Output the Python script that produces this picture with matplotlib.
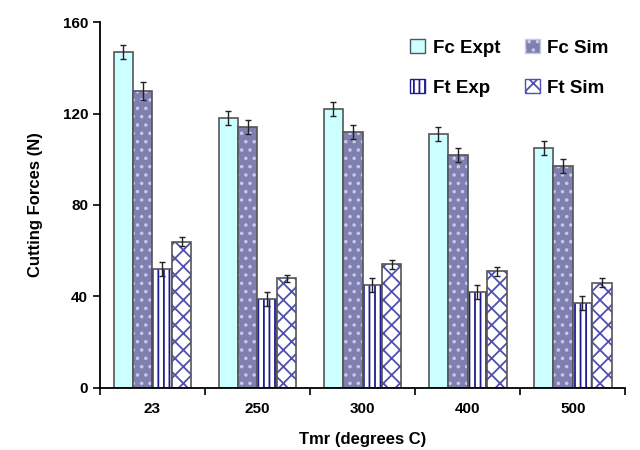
import matplotlib
matplotlib.use('Agg')
import matplotlib.pyplot as plt
import numpy as np

plt.rcParams['font.family'] = ['Liberation Sans', 'DejaVu Sans']
plt.rcParams['font.weight'] = 'bold'
plt.rcParams['hatch.linewidth'] = 1.3

temps = ['23', '250', '300', '400', '500']
fc_expt = [147, 118, 122, 111, 105]
fc_sim = [130, 114, 112, 102, 97]
ft_exp = [52, 39, 45, 42, 37]
ft_sim = [64, 48, 54, 51, 46]
fc_expt_err = [3, 3, 3, 3, 3]
fc_sim_err = [4, 3, 3, 3, 3]
ft_exp_err = [3, 3, 3, 3, 3]
ft_sim_err = [2, 1.5, 2, 2, 2]

series = [
    ('Fc Expt', fc_expt, fc_expt_err, '#ccffff', None, None),
    ('Fc Sim', fc_sim, fc_sim_err, '#8080b0', '..', '#c8c8e8'),
    ('Ft Exp', ft_exp, ft_exp_err, 'white', '|||', '#1c1c90'),
    ('Ft Sim', ft_sim, ft_sim_err, 'white', 'xx', '#5050b0'),
]

fig = plt.figure(figsize=(6.4, 4.5), dpi=100)
ax = fig.add_axes([0.156, 0.138, 0.821, 0.813])

x = np.arange(len(temps))
w = 0.185
offsets = (np.arange(4) - 1.5) * w
handles = []
for (label, vals, err, fc, hatch, hcol), off in zip(series, offsets):
    if hatch:
        ax.bar(x + off, vals, w, color=fc, hatch=hatch, edgecolor=hcol, linewidth=0)
    ax.bar(x + off, vals, w, color=fc if not hatch else 'none', edgecolor='#555555',
           linewidth=1.2)
    ax.errorbar(x + off, vals, yerr=err, fmt='none', ecolor='#222222',
                elinewidth=1, capsize=2.5, capthick=1)
    h = plt.Rectangle((0, 0), 1, 1, facecolor=fc, hatch=hatch,
                      edgecolor=hcol if hcol else '#555555', linewidth=1)
    handles.append(h)

ax.set_xlim(-0.5, len(temps) - 0.5)
ax.set_ylim(0, 160)
ax.set_yticks([0, 40, 80, 120, 160])
ax.set_xticks(x)
ax.set_xticklabels(temps)
ax.set_xticks(np.arange(len(temps) + 1) - 0.5, minor=True)
ax.tick_params(axis='x', which='major', length=0, pad=10, labelsize=11)
ax.tick_params(axis='x', which='minor', length=5, width=1.2, direction='out')
ax.tick_params(axis='y', length=5, width=1.2, labelsize=11)
for s in ['top', 'right']:
    ax.spines[s].set_visible(False)
for s in ['left', 'bottom']:
    ax.spines[s].set_linewidth(1.3)

ax.set_ylabel('Cutting Forces (N)', fontsize=12, fontweight='bold', labelpad=14)
ax.set_xlabel('Tmr (degrees C)', fontsize=12, fontweight='bold', labelpad=12)

order = [0, 2, 1, 3]
ax.legend([handles[i] for i in order], [series[i][0] for i in order], ncol=2,
          frameon=False, loc='upper right', bbox_to_anchor=(1.0, 1.0),
          handlelength=0.8, handleheight=0.8, handletextpad=0.4,
          labelspacing=1.2, columnspacing=1.3,
          prop={'weight': 'bold', 'size': 13.5})

fig.savefig('out.png', dpi=100)
